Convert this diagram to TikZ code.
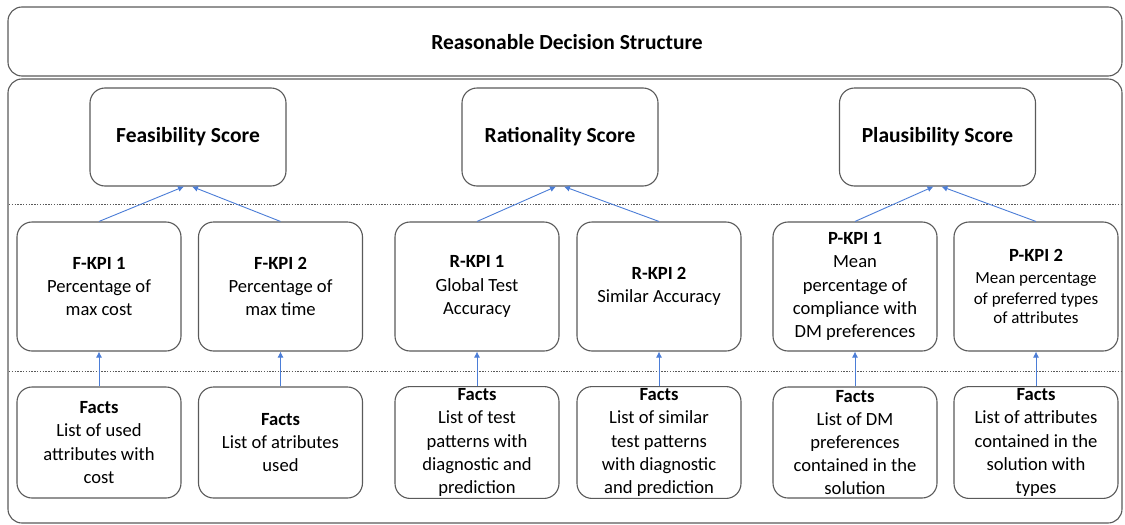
\documentclass[tikz,border=0pt]{standalone}
\usepackage{fontspec}
\setmainfont{Carlito}
\usetikzlibrary{arrows.meta}
\definecolor{edge}{RGB}{90,90,90}
\definecolor{link}{RGB}{75,125,215}
\newcommand\kpinote{\fontsize{17}{20}\selectfont}
\begin{document}
\begin{tikzpicture}[x=1pt,y=-1pt,
  panel/.style={draw=edge,line width=1.1pt,rounded corners=14pt,fill=white},
  box/.style={draw=edge,line width=1.1pt,rounded corners=15pt,fill=white,
    align=center,inner sep=2pt,font=\fontsize{18.6}{23.2}\selectfont},
  scorebox/.style={box,minimum width=196pt,minimum height=98pt,
    font=\fontsize{21.5}{25}\selectfont\bfseries},
  kpibox/.style={box,minimum width=164pt,minimum height=129pt},
  factbox/.style={box,minimum width=164pt,minimum height=111pt},
  sep/.style={draw=edge,line width=0.9pt,dash pattern=on 1.4pt off 1.4pt},
  up/.style={draw=link,line width=0.9pt,-{Latex[length=6pt,width=6pt]}}]
\useasboundingbox (0,0) rectangle (1125,525);

% outer frames
\draw[panel] (8,7) rectangle (1122,76);
\node[font=\fontsize{21.5}{25}\selectfont\bfseries] (title) at (567,42) {Reasonable Decision Structure};
\draw[panel] (8,79) rectangle (1122,523);

% level separators
\draw[sep] (9,204) -- (1121,204);
\draw[sep] (9,371) -- (1121,371);

% scores
\node[scorebox] (fs) at (188,137) {Feasibility Score};
\node[scorebox] (rs) at (560,137) {Rationality Score};
\node[scorebox] (ps) at (937.5,137) {Plausibility Score};

% KPIs
\node[kpibox] (fk1) at (99,286.5) {\textbf{F-KPI 1}\\Percentage of\\max cost};
\node[kpibox] (fk2) at (280.5,286.5) {\textbf{F-KPI 2}\\Percentage of\\max time};
\node[kpibox] (rk1) at (477,286.5) {\textbf{R-KPI 1}\\Global Test\\Accuracy};
\node[kpibox] (rk2) at (659,286.5) {\textbf{R-KPI 2}\\Similar Accuracy};
\node[kpibox] (pk1) at (855,286.5) {\textbf{P-KPI 1}\\Mean\\percentage of\\compliance with\\DM preferences};
\node[kpibox] (pk2) at (1036,286.5) {\textbf{P-KPI 2}\\[-1pt]{\kpinote Mean percentage}\\[-3pt]{\kpinote of preferred types}\\[-4pt]{\kpinote of attributes}};

% facts
\node[factbox] (ff1) at (99,442.5) {\textbf{Facts}\\List of used\\attributes with\\cost};
\node[factbox] (ff2) at (280.5,442.5) {\textbf{Facts}\\List of atributes\\used};
\node[factbox] (rf1) at (477,442.5) {\textbf{Facts}\\List of test\\patterns with\\diagnostic and\\prediction};
\node[factbox] (rf2) at (659,442.5) {\textbf{Facts}\\List of similar\\test patterns\\with diagnostic\\and prediction};
\node[factbox] (pf1) at (855,442.5) {\textbf{Facts}\\List of DM\\preferences\\contained in the\\solution};
\node[factbox] (pf2) at (1036,442.5) {\textbf{Facts}\\List of attributes\\contained in the\\solution with\\types};

% KPIs feed the scores
\draw[up] (fk1.north) -- ([xshift=-4pt]fs.south);
\draw[up] (fk2.north) -- ([xshift=4pt]fs.south);
\draw[up] (rk1.north) -- ([xshift=-4pt]rs.south);
\draw[up] (rk2.north) -- ([xshift=4pt]rs.south);
\draw[up] (pk1.north) -- ([xshift=-4pt]ps.south);
\draw[up] (pk2.north) -- ([xshift=4pt]ps.south);

% facts feed the KPIs
\draw[up] (ff1.north) -- (fk1.south);
\draw[up] (ff2.north) -- (fk2.south);
\draw[up] (rf1.north) -- (rk1.south);
\draw[up] (rf2.north) -- (rk2.south);
\draw[up] (pf1.north) -- (pk1.south);
\draw[up] (pf2.north) -- (pk2.south);
\end{tikzpicture}
\end{document}
